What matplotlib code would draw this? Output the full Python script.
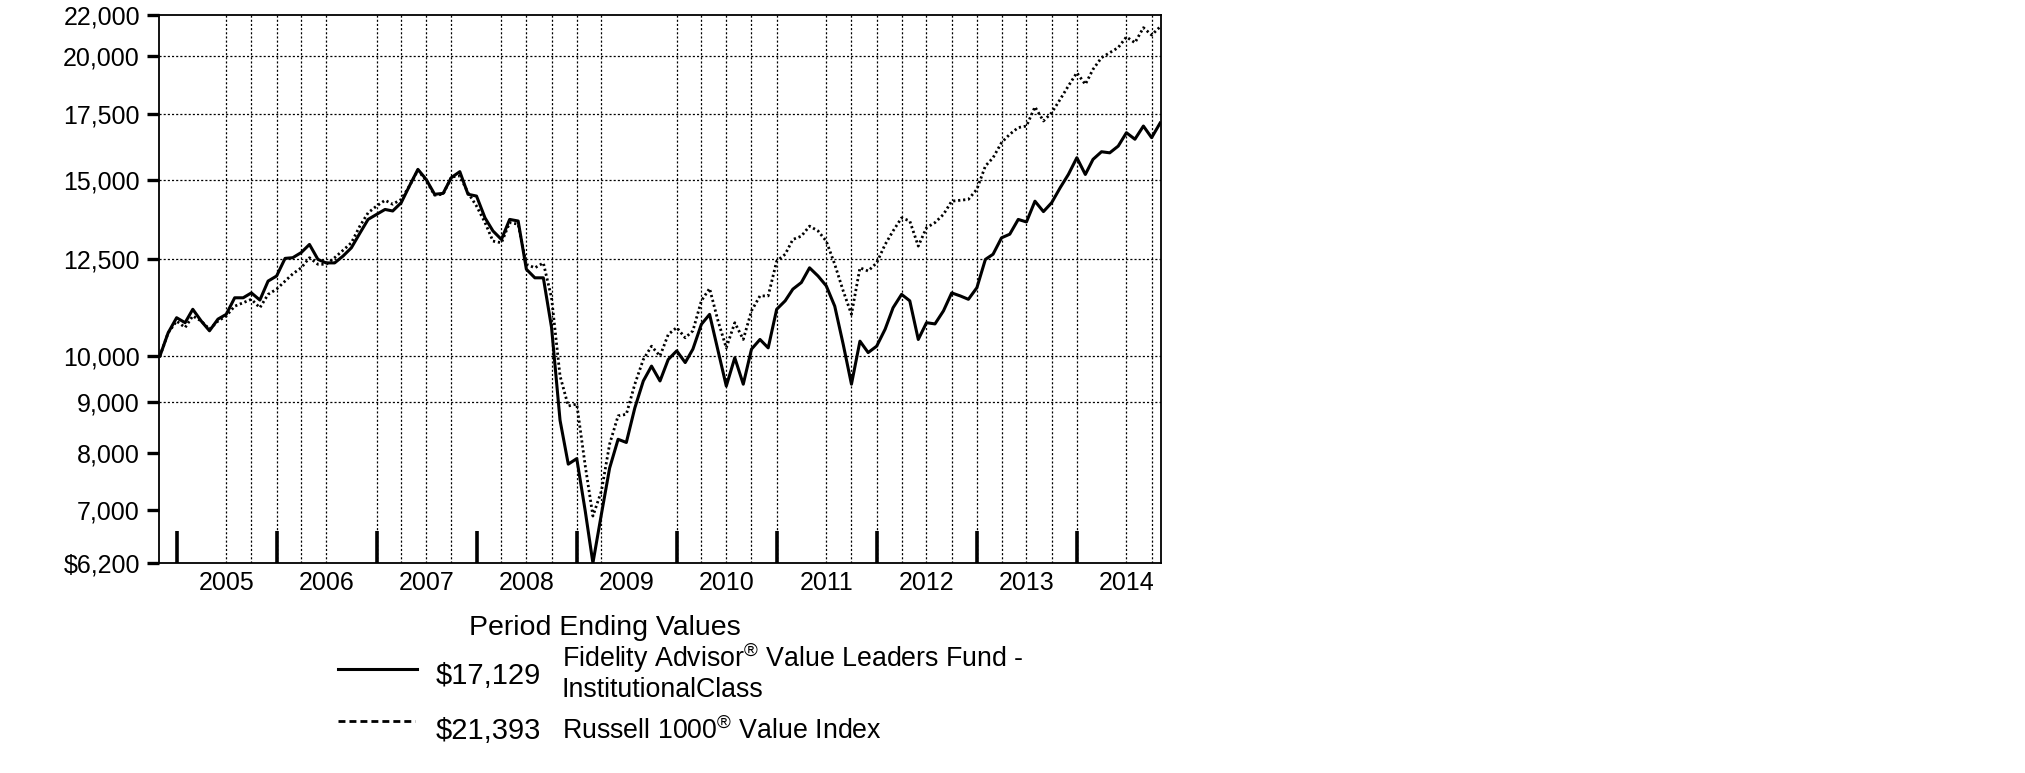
import matplotlib
matplotlib.use('Agg')
import matplotlib.pyplot as plt
import matplotlib.dates as mdates
from matplotlib.ticker import FixedLocator, NullLocator
from matplotlib.lines import Line2D
import pandas as pd

plt.rcParams['font.family'] = ['Liberation Sans', 'DejaVu Sans']
plt.rcParams['mathtext.fontset'] = 'custom'
plt.rcParams['mathtext.rm'] = 'Liberation Sans'
plt.rcParams['lines.scale_dashes'] = False

# monthly values, Oct 2004 - Oct 2014 (hypothetical $10,000 investment)
months = pd.date_range('2004-10-31', periods=121, freq='ME')

fund = [10000, 10550, 10925, 10800, 11140, 10840, 10600, 10890, 11010, 11440,
        11440, 11570, 11380, 11890, 12030, 12530, 12550, 12700, 12940, 12500,
        12400, 12400, 12600, 12840, 13280, 13710, 13870, 14030, 13980, 14250,
        14810, 15390, 15040, 14530, 14560, 15100, 15310, 14530, 14470, 13760,
        13350, 13090, 13710, 13660, 12220, 11980, 11980, 10680, 8620, 7790,
        7890, 6990, 6200, 6940, 7720, 8250, 8190, 8870, 9440, 9770,
        9440, 9920, 10120, 9850, 10160, 10760, 11010, 10120, 9330, 9960,
        9370, 10160, 10390, 10190, 11140, 11360, 11670, 11850, 12260, 12030,
        11760, 11220, 10270, 9370, 10350, 10080, 10230, 10640, 11180, 11530,
        11360, 10390, 10800, 10770, 11100, 11570, 11490, 11400, 11710, 12500,
        12650, 13140, 13250, 13710, 13630, 14300, 13960, 14250, 14750, 15210,
        15810, 15210, 15750, 16030, 15990, 16240, 16750, 16500, 17010, 16560,
        17129]

index = [10000, 10550, 10840, 10680, 10970, 10840, 10640, 10840, 10970, 11220,
         11310, 11400, 11180, 11530, 11670, 11890, 12090, 12260, 12550, 12360,
         12360, 12550, 12770, 12990, 13500, 13920, 14140, 14330, 14200, 14360,
         14810, 15360, 15000, 14500, 14530, 15120, 15160, 14580, 14140, 13610,
         13040, 12990, 13610, 13560, 12360, 12260, 12400, 11440, 9550, 8910,
         8950, 7760, 6910, 7320, 8160, 8710, 8740, 9370, 9920, 10230,
         10000, 10510, 10680, 10430, 10600, 11360, 11690, 10840, 10190, 10800,
         10390, 11100, 11490, 11490, 12450, 12650, 13090, 13190, 13500, 13350,
         13040, 12360, 11620, 11010, 12260, 12170, 12400, 12940, 13350, 13760,
         13660, 12890, 13450, 13610, 13870, 14300, 14330, 14360, 14700, 15510,
         15810, 16370, 16690, 16950, 17010, 17780, 17210, 17540, 18090, 18660,
         19240, 18730, 19390, 19920, 20150, 20390, 20900, 20620, 21350, 20990,
         21393]

y_ticks = [6200, 7000, 8000, 9000, 10000, 12500, 15000, 17500, 20000, 22000]
y_labels = ['$6,200', '7,000', '8,000', '9,000', '10,000', '12,500', '15,000',
            '17,500', '20,000', '22,000']
y_grid = [9000, 10000, 12500, 15000, 17500, 20000]

years = list(range(2005, 2015))
skipped_quarters = ['2004-12-31', '2005-03-31', '2006-09-30', '2007-12-31',
                    '2009-06-30', '2009-09-30', '2011-03-31', '2014-03-31']

fig = plt.figure(figsize=(20.25, 7.73), dpi=100)
ax = fig.add_axes([0.0787, 0.2717, 0.4946, 0.7093])

grid_kw = dict(color='black', lw=0.9, linestyle=(0, (1.5, 1.5)), zorder=1)
for v in y_grid:
    ax.axhline(v, **grid_kw)
skip = pd.to_datetime(skipped_quarters)
for q in pd.date_range('2004-12-31', '2014-09-30', freq='QE'):
    if q not in skip:
        ax.axvline(q, **grid_kw)

ax.plot(months, fund, color='black', lw=2.2, zorder=3)
ax.plot(months, index, color='black', lw=2.0, linestyle=(0, (1.6, 2.0)), zorder=2)

ax.set_yscale('log')
ax.set_ylim(6200, 22000)
ax.yaxis.set_major_locator(FixedLocator(y_ticks))
ax.yaxis.set_minor_locator(NullLocator())
ax.set_yticklabels(y_labels)
ax.tick_params(axis='y', direction='out', length=9, width=2.4, pad=5, labelsize=18)

ax.set_xlim(pd.Timestamp('2004-10-29'), pd.Timestamp('2014-11-03'))
ax.xaxis.set_major_locator(FixedLocator(
    [mdates.date2num(pd.Timestamp(f'{y - 1}-12-31')) for y in years]))
ax.xaxis.set_minor_locator(FixedLocator(
    [mdates.date2num(pd.Timestamp(f'{y}-07-01')) for y in years]))
ax.xaxis.set_major_formatter(plt.NullFormatter())
ax.xaxis.set_minor_formatter(plt.FixedFormatter([str(y) for y in years]))
ax.tick_params(axis='x', which='major', direction='in', length=23, width=2.6)
ax.tick_params(axis='x', which='minor', length=0, pad=6, labelsize=18)

for s in ax.spines.values():
    s.set_linewidth(1.3)

# legend block
W, H = 2025, 773
def fx(x):
    return x / W
def fy(y):
    return (H - y) / H

fig.text(fx(469), fy(635), 'Period Ending Values', fontsize=20.5, va='baseline')
fig.add_artist(Line2D([fx(338), fx(417)], [fy(669), fy(669)], color='black', lw=2.2))
fig.text(fx(436), fy(684), '$17,129', fontsize=21, va='baseline')
fig.text(fx(562), fy(667), r'Fidelity Advisor$^{®}$ Value Leaders Fund -', fontsize=19.3, va='baseline')
fig.text(fx(562), fy(697), 'InstitutionalClass', fontsize=19.3, va='baseline')
fig.add_artist(Line2D([fx(338), fx(415)], [fy(721), fy(721)], color='black', lw=2.0,
                      linestyle=(0, (5, 2.9))))
fig.text(fx(436), fy(739), '$21,393', fontsize=21, va='baseline')
fig.text(fx(562), fy(739), r'Russell 1000$^{®}$ Value Index', fontsize=19.3, va='baseline')

fig.savefig('out.png', dpi=100)
